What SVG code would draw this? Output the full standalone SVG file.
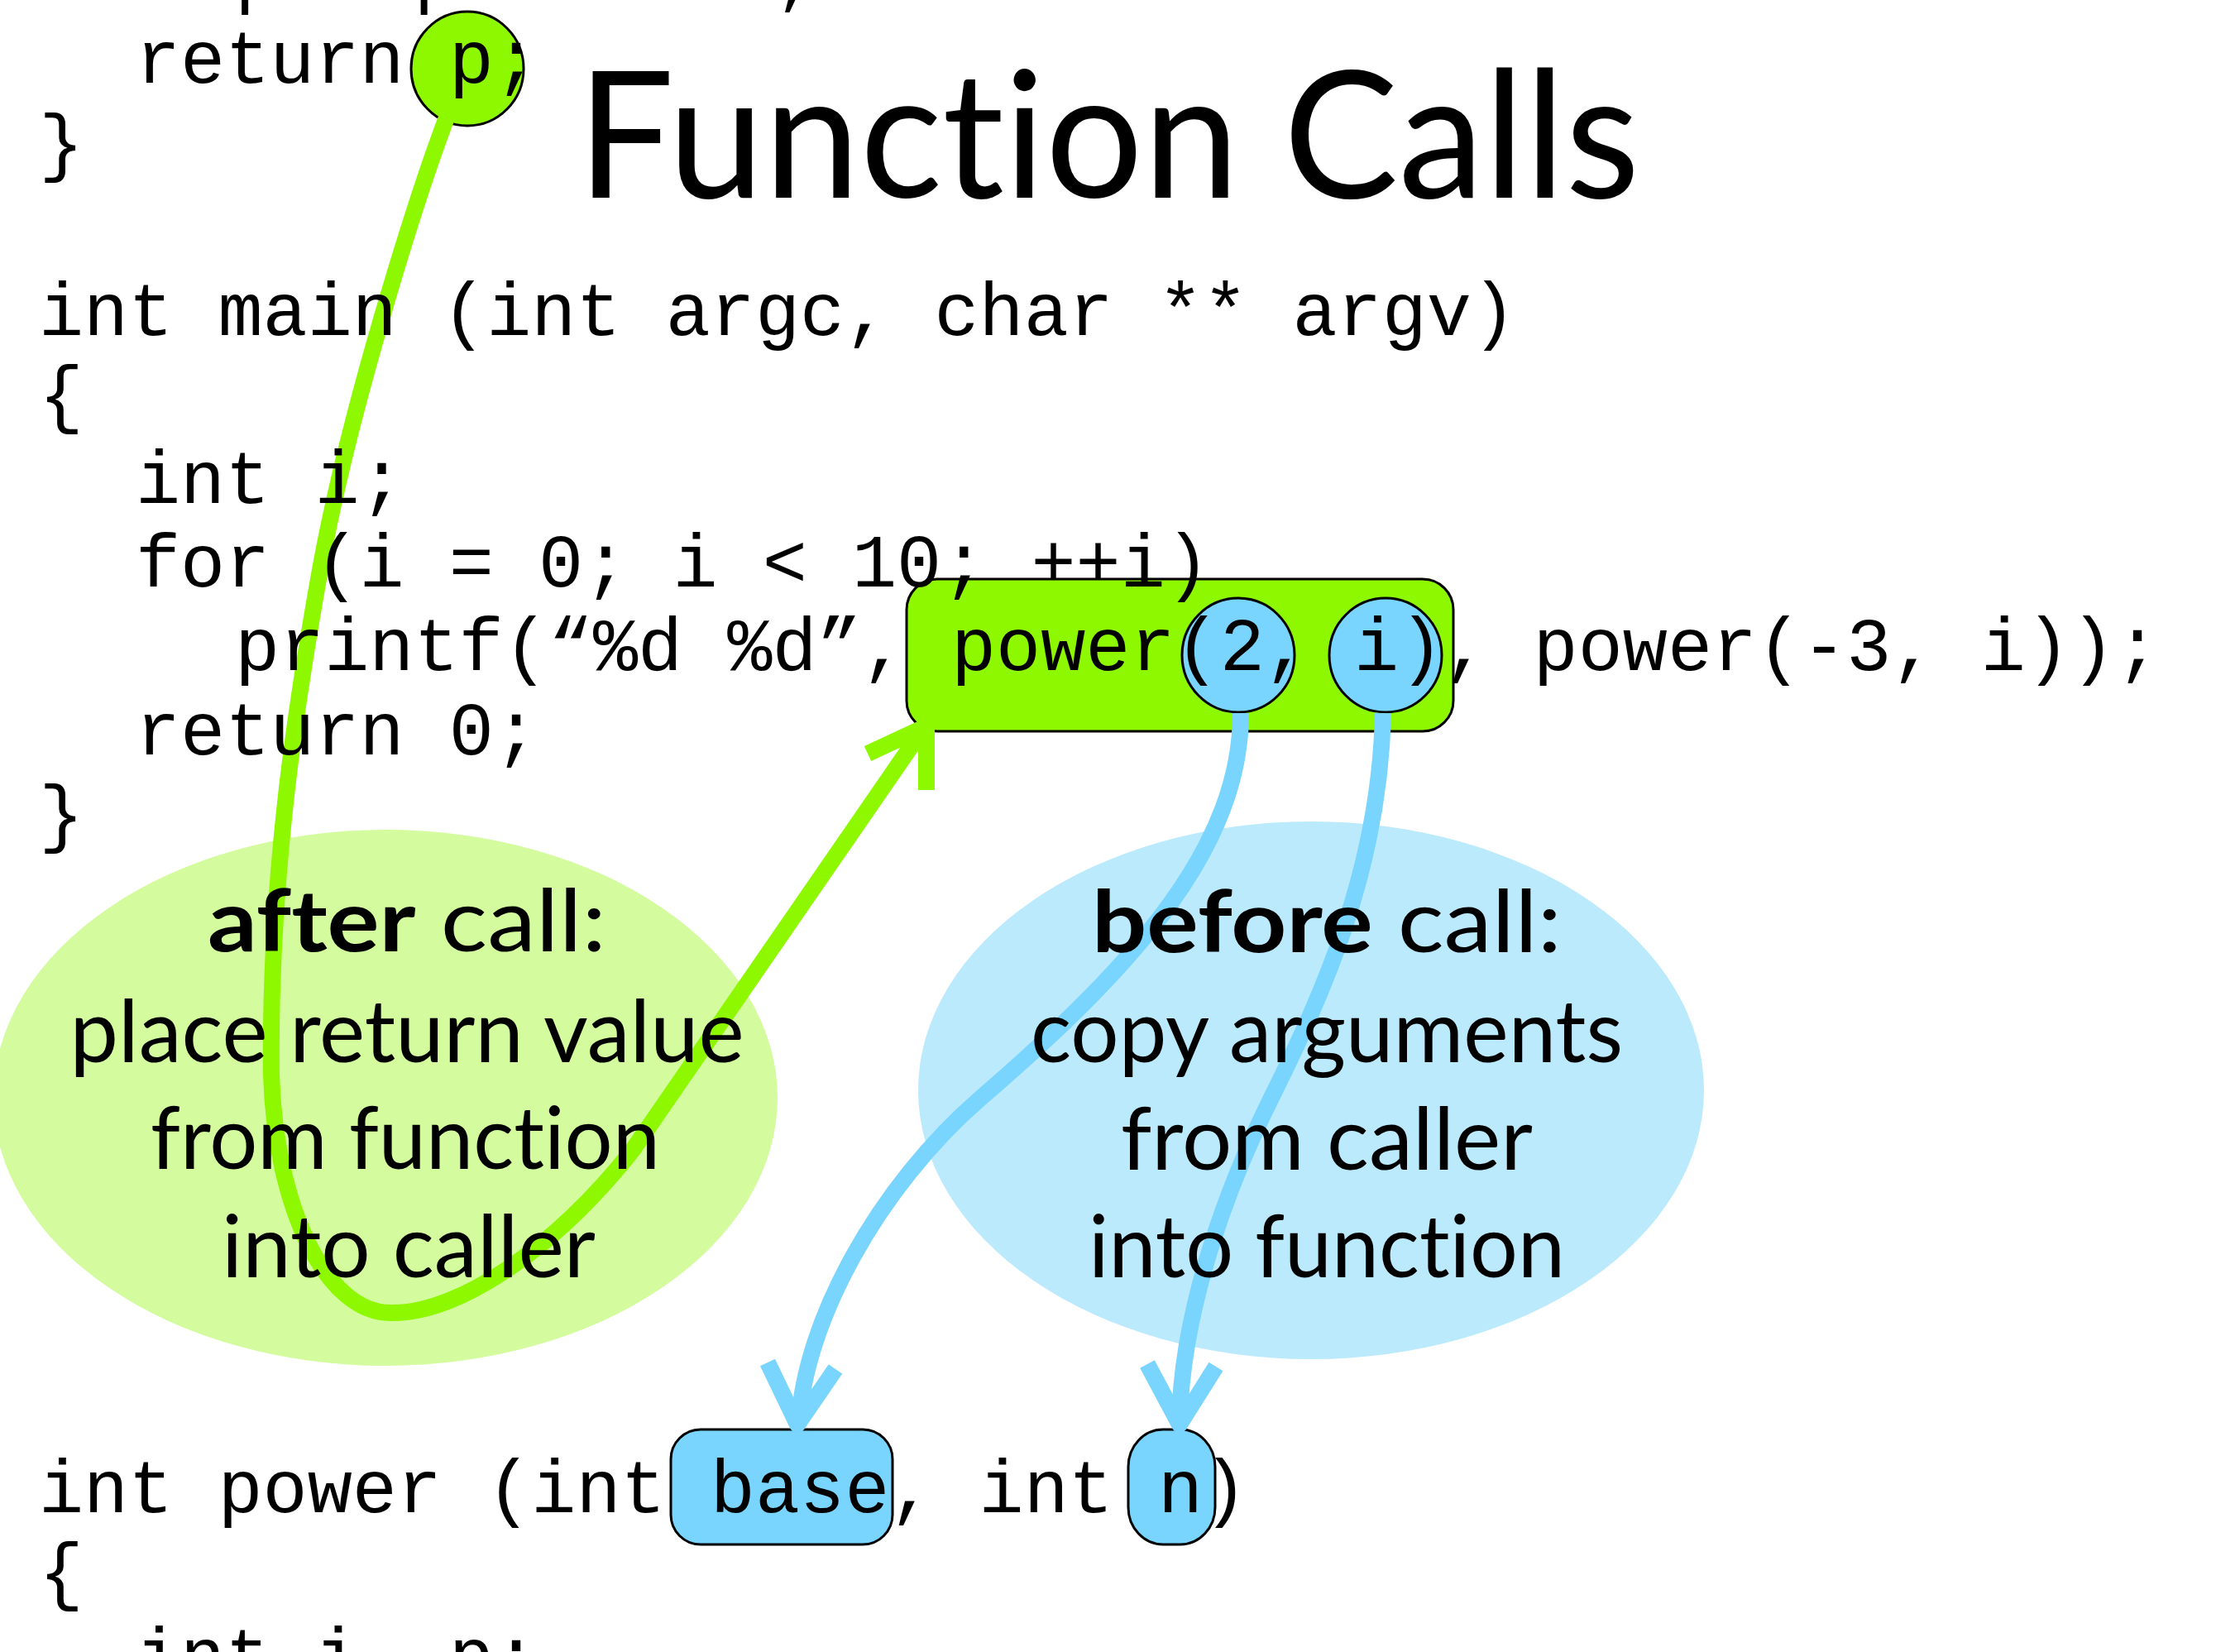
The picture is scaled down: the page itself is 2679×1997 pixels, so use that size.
<svg xmlns="http://www.w3.org/2000/svg" width="2679" height="1997" viewBox="0 0 2679 1997">
<style>
.code{font-family:"Liberation Mono","Courier New",monospace;font-size:90.2px;fill:#000;white-space:pre}
.sans{font-family:Lato,"Open Sans","Liberation Sans",sans-serif;fill:#000;font-variant-ligatures:none;font-feature-settings:"liga" 0,"dlig" 0}
.bub{font-size:104px}
.b{font-weight:bold}
.hl{stroke:#000;stroke-width:3}
.gfill{fill:#8EF800}
.bfill{fill:#79D5FE}
.gline{fill:none;stroke:#8EF800;stroke-width:20}
.bline{fill:none;stroke:#79D5FE;stroke-width:20}
.head{stroke-linejoin:round;stroke-linecap:butt}
</style>
<rect x="0" y="0" width="2679" height="1997" fill="#fff"/>
<g id="bubble-after"><ellipse cx="466" cy="1327" rx="474" ry="324" fill="#D4FB9D"/></g>
<g id="bubble-before"><ellipse cx="1585" cy="1318" rx="475" ry="325" fill="#BBEAFD"/></g>
<g id="call-box"><rect class="gfill hl" x="1096" y="700" width="661" height="184" rx="37"/></g>
<g id="arg-2"><ellipse class="bfill hl" cx="1497" cy="792" rx="68" ry="69"/></g>
<g id="arg-i"><ellipse class="bfill hl" cx="1675" cy="792" rx="68" ry="69"/></g>
<g id="ret-p"><ellipse class="gfill hl" cx="565" cy="83" rx="68" ry="69"/></g>
<g id="param-base"><rect class="bfill hl" x="811" y="1728" width="268" height="139" rx="36"/></g>
<g id="param-n"><rect class="bfill hl" x="1364" y="1728" width="105" height="139" rx="42" ry="45"/></g>
<g id="connectors">
<path class="gline" d="M540,142 C505,235 420,500 385,700 C362,830 325,1050 328,1300 C333,1460 395,1590 475,1587 C555,1587 670,1510 765,1390 L1114,884"/>
<polyline class="gline head" points="1049,911 1120,878 1120,955"/>
<path class="bline" d="M1500,862 C1500,1020 1380,1160 1186,1327 C1060,1436 972,1600 966,1720"/>
<polyline class="bline head" points="928,1647 964,1722 1010,1655"/>
<path class="bline" d="M1672,862 C1668,1050 1600,1200 1537,1327 C1487,1427 1428,1580 1426,1720"/>
<polyline class="bline head" points="1387,1649 1426,1722 1470,1652"/>
</g>
<g id="title"><text class="sans" x="1340" y="239" font-size="213" text-anchor="middle" textLength="1285" lengthAdjust="spacingAndGlyphs">Function Calls</text></g>
<g id="code">
<text class="code" x="284" y="-1">p = p * base;</text>
<text class="code" x="164" y="100">return p;</text>
<text class="code" x="47" y="202">}</text>
<text class="code" x="47" y="405">int main (int argc, char ** argv)</text>
<text class="code" x="47" y="506">{</text>
<text class="code" x="164" y="608">int i;</text>
<text class="code" x="164" y="709">for (i = 0; i &lt; 10; ++i)</text>
<text class="code" x="284" y="810">printf(“%d %d”, power(2, i), power(-3, i));</text>
<text class="code" x="164" y="912">return 0;</text>
<text class="code" x="47" y="1013">}</text>
<text class="code" x="47" y="1828">int power (int base, int n)</text>
<text class="code" x="47" y="1929">{</text>
<text class="code" x="164" y="2031">int i, p;</text>
</g>
<g id="after-text" class="sans bub" text-anchor="middle">
<text x="492" y="1150" textLength="482" lengthAdjust="spacingAndGlyphs"><tspan class="b">after</tspan> call:</text>
<text x="492" y="1284" textLength="815" lengthAdjust="spacingAndGlyphs">place return value</text>
<text x="490" y="1413" textLength="616" lengthAdjust="spacingAndGlyphs">from function</text>
<text x="494" y="1544" textLength="452" lengthAdjust="spacingAndGlyphs">into caller</text>
</g>
<g id="before-text" class="sans bub" text-anchor="middle">
<text x="1604" y="1151" textLength="568" lengthAdjust="spacingAndGlyphs"><tspan class="b">before</tspan> call:</text>
<text x="1604" y="1284" textLength="716" lengthAdjust="spacingAndGlyphs">copy arguments</text>
<text x="1604" y="1414" textLength="498" lengthAdjust="spacingAndGlyphs">from caller</text>
<text x="1604" y="1544" textLength="576" lengthAdjust="spacingAndGlyphs">into function</text>
</g>
</svg>
